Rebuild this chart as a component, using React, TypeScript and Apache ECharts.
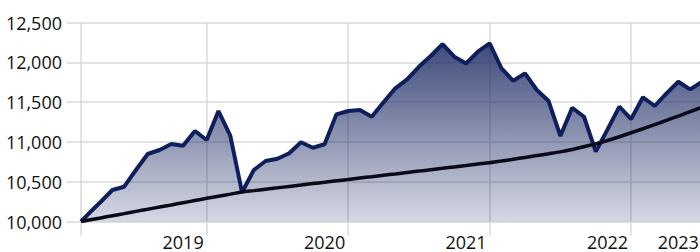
import React, { useEffect, useRef } from "react";
import * as echarts from "echarts";

// month index: 12 = end of 2018, 24 = end of 2019, ...
const monthIndex = [
  1.34, 2, 3, 4, 5, 6, 7, 8, 9, 10, 11, 12, 13, 14, 15, 16, 17, 18, 19, 20, 21, 22, 23, 24, 25, 26, 27,
  28, 29, 30, 31, 32, 33, 34, 35, 36, 37, 38, 39, 40, 41, 42, 43, 44, 45, 46, 47, 48, 49, 50, 51, 52,
  53, 54,
];
const portfolio = [
  10000, 10100, 10245, 10396, 10437, 10647, 10848, 10898, 10973, 10952, 11137, 11024, 11388, 11080,
  10367, 10647, 10760, 10789, 10857, 10995, 10927, 10970, 11346, 11388, 11400, 11316, 11497, 11673,
  11786, 11944, 12079, 12229, 12070, 11985, 12133, 12238, 11924, 11768, 11861, 11652, 11513, 11074,
  11429, 11316, 10877, 11158, 11442, 11287, 11560, 11451, 11610, 11756, 11660, 11755,
];
const benchmark = [
  10000, 10018, 10045, 10072, 10099, 10127, 10154, 10182, 10208, 10236, 10264, 10291, 10318, 10344,
  10371, 10388, 10406, 10423, 10441, 10458, 10476, 10493, 10511, 10528, 10546, 10563, 10581, 10598,
  10616, 10633, 10651, 10668, 10686, 10703, 10721, 10738, 10759, 10782, 10805, 10828, 10851, 10875,
  10905, 10940, 10975, 11018, 11065, 11115, 11165, 11218, 11270, 11325, 11380, 11435,
];
const gridMonths = [1.34, 12, 24, 36, 48];
const yearLabelMonths = [10, 22, 34, 46, 52];
const yearLabels = ["2019", "2020", "2021", "2022", "2023"];

export default function App() {
  const ref = useRef<HTMLDivElement>(null);
  useEffect(() => {
    document.body.style.margin = "0";
    document.body.style.overflow = "hidden";
    const chart = echarts.init(ref.current!, null, { renderer: "svg" });
    const gray = "#d9d9d9";
    const font = "'Open Sans', sans-serif";
    chart.setOption({
      animation: false,
      grid: { left: 81, right: 0, top: 22.5, bottom: 30.5, containLabel: false, outerBoundsMode: "none" },
      xAxis: {
        type: "value",
        min: 1.34,
        max: 53.84,
        axisLine: { show: false },
        axisTick: {
          show: true,
          length: 14,
          customValues: gridMonths,
          lineStyle: { color: gray, width: 1.5 },
        },
        splitLine: { show: true, lineStyle: { color: gray, width: 1.5 } },
        axisLabel: {
          customValues: yearLabelMonths,
          margin: 11,
          color: "#111",
          fontSize: 18,
          fontFamily: font,
          formatter: (v: number) => {
            let best = 0;
            yearLabelMonths.forEach((m, i) => {
              if (Math.abs(m - v) < Math.abs(yearLabelMonths[best] - v)) best = i;
            });
            return yearLabels[best];
          },
        },
      },
      yAxis: {
        type: "value",
        min: 10000,
        max: 12500,
        interval: 500,
        axisLine: { show: false },
        axisTick: { show: true, length: 14, lineStyle: { color: gray, width: 1.5 } },
        splitLine: { show: true, lineStyle: { color: gray, width: 1.5 } },
        axisLabel: {
          margin: 19,
          color: "#111",
          fontSize: 18,
          fontFamily: font,
          formatter: (v: number) => v.toLocaleString("en-US"),
        },
      },
      series: [
        {
          type: "line",
          data: monthIndex.map((m, i) => [m, portfolio[i]]),
          symbol: "none",
          lineStyle: { color: "#0f1f5e", width: 4 },
          areaStyle: {
            opacity: 1,
            color: new echarts.graphic.LinearGradient(0, 0, 0, 1, [
              { offset: 0, color: "rgba(28,42,100,0.85)" },
              { offset: 1, color: "rgba(28,42,100,0.18)" },
            ]),
          },
          z: 2,
        },
        {
          type: "line",
          data: monthIndex.map((m, i) => [m, benchmark[i]]),
          symbol: "none",
          smooth: 0.3,
          lineStyle: { color: "#0a0a18", width: 3.5 },
          z: 3,
        },
      ],
    });
    return () => chart.dispose();
  }, []);
  return <div ref={ref} style={{ width: 700, height: 252 }} />;
}
